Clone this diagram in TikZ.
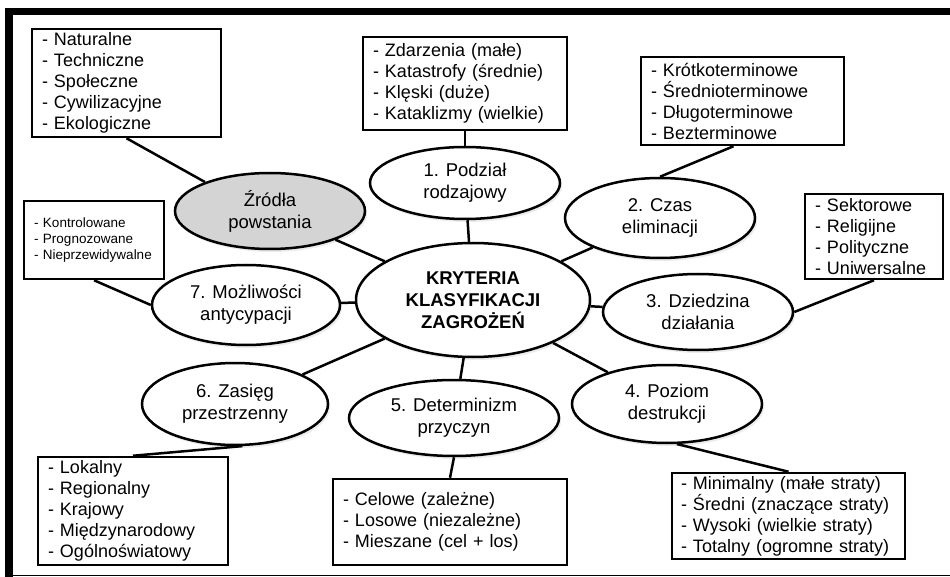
\documentclass[tikz,border=0pt]{standalone}
\usepackage{fontspec}
\setmainfont{Liberation Sans}
\usetikzlibrary{shapes.geometric,calc,shadows}
\begin{document}
\begin{tikzpicture}[x=1pt,y=-1pt,
  ell/.style={ellipse,draw=black,line width=2.5pt,fill=white,inner sep=0pt,align=center,
    font=\fontsize{18.5}{22}\selectfont,
    drop shadow={shadow xshift=2pt,shadow yshift=-3pt,opacity=0.15}},
  lbox/.style={rectangle,draw=black,line width=2.5pt,fill=white,align=left,
    inner xsep=10pt,inner ysep=0pt,font=\fontsize{18}{21}\selectfont},
  conn/.style={line width=2.5pt,draw=black}]
\useasboundingbox (0,0) rectangle (950,577);
% frame
\fill[black] (5,8) rectangle (950,15);
\fill[black] (5,8) rectangle (13,577);
\draw[line width=1.7pt] (13,575.5) -- (950,575.5);

% ellipses
\node[ell,minimum width=234pt,minimum height=114pt,font=\bfseries\fontsize{18.5}{22}\selectfont] (c) at (473,300) {KRYTERIA\\KLASYFIKACJI\\ZAGROŻEŃ};
\node[ell,fill=black!17,minimum width=190pt,minimum height=76pt] (zr) at (270,211) {Źródła\\powstania};
\node[ell,minimum width=190pt,minimum height=72pt] (e1) at (465,183) {1. Podział\\rodzajowy};
\node[ell,minimum width=190pt,minimum height=80pt] (e2) at (660,218) {2. Czas\\eliminacji};
\node[ell,minimum width=190pt,minimum height=76pt] (e3) at (698,312) {3. Dziedzina\\działania};
\node[ell,minimum width=190pt,minimum height=78pt] (e4) at (667,404) {4. Poziom\\destrukcji};
\node[ell,minimum width=210pt,minimum height=76pt] (e5) at (454,418) {5. Determinizm\\przyczyn};
\node[ell,minimum width=186pt,minimum height=82pt] (e6) at (235,404) {6. Zasięg\\przestrzenny};
\node[ell,minimum width=188pt,minimum height=80pt] (e7) at (246,305) {7. Możliwości\\antycypacji};

% boxes
\node[lbox,text width=169pt,minimum height=108pt] (b1) at (126.5,83) {- Naturalne\\- Techniczne\\- Społeczne\\- Cywilizacyjne\\- Ekologiczne};
\node[lbox,text width=184pt,minimum height=93pt] (b2) at (465,83.5) {- Zdarzenia (małe)\\- Katastrofy (średnie)\\- Klęski (duże)\\- Kataklizmy (wielkie)};
\node[lbox,text width=183pt,minimum height=88pt] (b3) at (742.5,101) {- Krótkoterminowe\\- Średnioterminowe\\- Długoterminowe\\- Bezterminowe};
\node[lbox,text width=118pt,minimum height=85pt] (b4) at (874,236.5) {- Sektorowe\\- Religijne\\- Polityczne\\- Uniwersalne};
\node[lbox,inner xsep=9pt,text width=215pt,minimum height=86pt] (b5) at (788.5,516) {- Minimalny (małe straty)\\- Średni (znaczące straty)\\- Wysoki (wielkie straty)\\- Totalny (ogromne straty)};
\node[lbox,text width=214pt,minimum height=86pt] (b6) at (450,522) {- Celowe (zależne)\\- Losowe (niezależne)\\- Mieszane (cel + los)};
\node[lbox,text width=170pt,minimum height=108pt] (b7) at (133,511) {- Lokalny\\- Regionalny\\- Krajowy\\- Międzynarodowy\\- Ogólnoświatowy};
\node[lbox,text width=120pt,minimum height=78pt,font=\fontsize{13.5}{16}\selectfont] (b8) at (94,240) {- Kontrolowane\\- Prognozowane\\- Nieprzewidywalne};

% connectors centre
\foreach \n in {zr,e1,e2,e3,e4,e5,e6,e7}
  \draw[conn] (c) -- (\n);
% connectors boxes
\draw[conn] (b1.south) -- (zr.156);
\draw[conn] (b2.south) -- (e1.north);
\draw[conn] ($(b3.south)+(-9,0)$) -- (e2.north);
\draw[conn] (b4.south) -- (e3.east);
\draw[conn] (b5.north) -- (e4.-76);
\draw[conn] (b6.north) -- (e5.south);
\draw[conn] (b7.north) -- (e6.-80);
\draw[conn] (b8.south) -- (e7.west);
\end{tikzpicture}
\end{document}
